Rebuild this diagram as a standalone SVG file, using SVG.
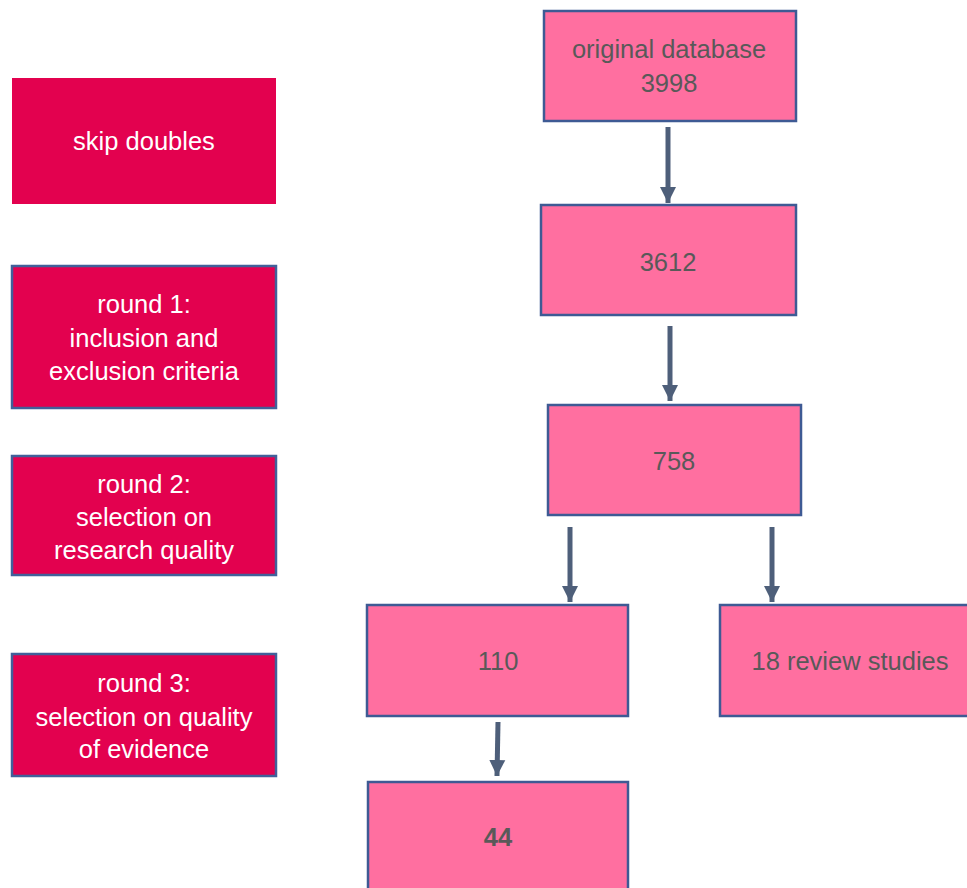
<svg xmlns="http://www.w3.org/2000/svg" width="967" height="888" viewBox="0 0 967 888">
  <style>
    .step { fill: #E3014F; stroke: #41609A; stroke-width: 2.5; }
    .box { fill: #FF6FA0; stroke: #3E5A94; stroke-width: 2.5; }
    .lt { font-family: "Liberation Sans", Arial, sans-serif; font-size: 25.5px; fill: #FFFFFF; text-anchor: middle; }
    .dt { font-family: "Liberation Sans", Arial, sans-serif; font-size: 25.5px; fill: #595959; text-anchor: middle; }
    .conn { stroke: #4E5F7A; stroke-width: 5; fill: none; }
  </style>
  <defs>
    <marker id="ah" markerUnits="userSpaceOnUse" markerWidth="17" markerHeight="17" refX="16" refY="8.5" orient="auto" viewBox="0 0 17 17">
      <path d="M0,0.5 L16,8.5 L0,16.5 z" fill="#4E5F7A"/>
    </marker>
  </defs>
  <rect width="967" height="888" fill="#FFFFFF"/>

  <g id="skip-doubles">
    <rect x="12" y="78" width="264" height="126" fill="#E3014F"/>
    <text class="lt" x="144" y="150">skip doubles</text>
  </g>
  <g id="round1">
    <rect class="step" x="12" y="266" width="264" height="142"/>
    <text class="lt" x="144" y="313">round 1:</text>
    <text class="lt" x="144" y="347">inclusion and</text>
    <text class="lt" x="144" y="380">exclusion criteria</text>
  </g>
  <g id="round2">
    <rect class="step" x="12" y="456" width="264" height="119"/>
    <text class="lt" x="144" y="493">round 2:</text>
    <text class="lt" x="144" y="526">selection on</text>
    <text class="lt" x="144" y="559">research quality</text>
  </g>
  <g id="round3">
    <rect class="step" x="12" y="654" width="264" height="122"/>
    <text class="lt" x="144" y="692">round 3:</text>
    <text class="lt" x="144" y="726">selection on quality</text>
    <text class="lt" x="144" y="758">of evidence</text>
  </g>

  <g id="original">
    <rect class="box" x="544" y="11" width="252" height="110"/>
    <text class="dt" x="669" y="58">original database</text>
    <text class="dt" x="669" y="92">3998</text>
  </g>
  <g id="n3612">
    <rect class="box" x="541" y="205" width="255" height="110"/>
    <text class="dt" x="668" y="271">3612</text>
  </g>
  <g id="n758">
    <rect class="box" x="548" y="405" width="253" height="110"/>
    <text class="dt" x="674" y="470">758</text>
  </g>
  <g id="n110">
    <rect class="box" x="367" y="605" width="261" height="111"/>
    <text class="dt" x="498" y="670">110</text>
  </g>
  <g id="review">
    <rect class="box" x="720" y="605" width="252" height="111"/>
    <text class="dt" x="850" y="670">18 review studies</text>
  </g>
  <g id="n44">
    <rect class="box" x="368" y="782" width="260" height="120"/>
    <text class="dt" x="498" y="846" font-weight="bold">44</text>
  </g>

  <g id="connectors">
    <line class="conn" x1="668" y1="127" x2="668" y2="203" marker-end="url(#ah)"/>
    <line class="conn" x1="670" y1="326" x2="670" y2="401" marker-end="url(#ah)"/>
    <line class="conn" x1="570" y1="527" x2="570" y2="602" marker-end="url(#ah)"/>
    <line class="conn" x1="772" y1="527" x2="772" y2="602" marker-end="url(#ah)"/>
    <line class="conn" x1="498" y1="722" x2="497" y2="776" marker-end="url(#ah)"/>
  </g>
</svg>
